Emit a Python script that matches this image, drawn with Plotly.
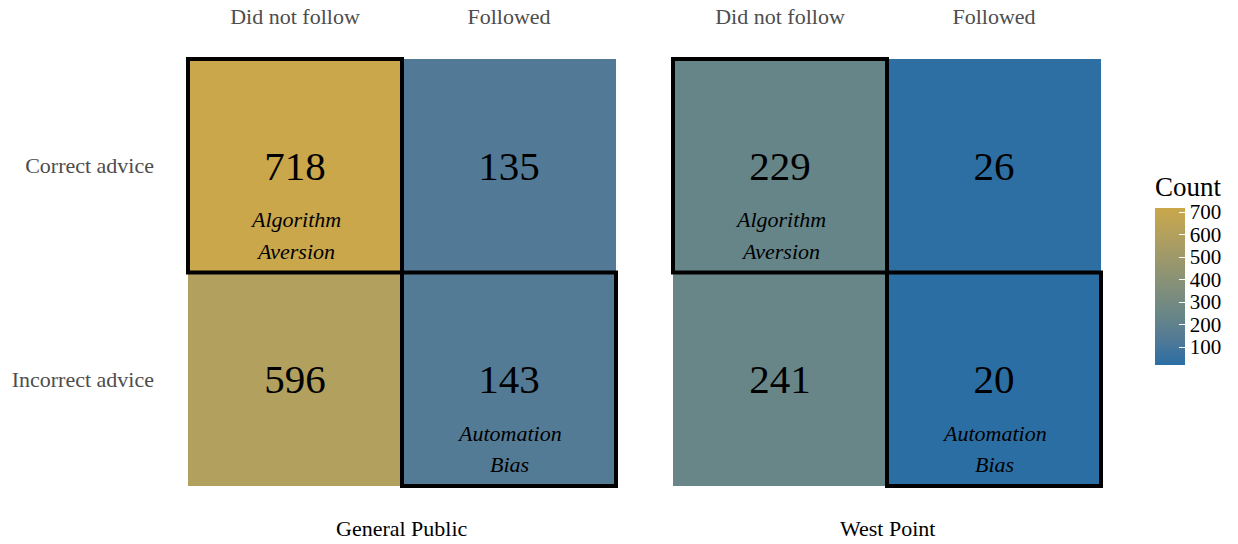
import plotly.graph_objects as go

FONT = "Liberation Serif"

ADVICE = ["Correct advice", "Incorrect advice"]
ACTION = ["Did not follow", "Followed"]
GROUPS = ["General Public", "West Point"]

# counts[row = advice][col = action]
GENERAL_PUBLIC = [[718, 135], [596, 143]]
WEST_POINT = [[229, 26], [241, 20]]
COUNTS = [GENERAL_PUBLIC, WEST_POINT]

# highlighted cells: (row, col, label lines)
HIGHLIGHTS = [(0, 0, ["Algorithm", "Aversion"]), (1, 1, ["Automation", "Bias"])]

CB_TICKS = [100, 200, 300, 400, 500, 600, 700]
SCALE = [
    [0.0, "#2b6ea4"], [0.165, "#527a96"], [0.30, "#668589"],
    [0.55, "#8a9275"], [0.825, "#b2a05e"], [1.0, "#c9a74a"],
]

W, H = 1238, 544
OFF = 8  # page body margin shifts the figure

zmin = min(min(r) for g in COUNTS for r in g)
zmax = max(max(r) for g in COUNTS for r in g)


def px_x(v):
    return (v - OFF) / W


def px_y(v):
    return 1 - (v - OFF) / H


fig = go.Figure()

x_domains = [[px_x(186), px_x(618)], [px_x(671), px_x(1103)]]
y_domain = [px_y(488), px_y(57)]

for i, (grp, z) in enumerate(zip(GROUPS, COUNTS)):
    xa = "x" if i == 0 else f"x{i+1}"
    ya = "y" if i == 0 else f"y{i+1}"
    fig.add_trace(go.Heatmap(
        z=z, x=ACTION, y=ADVICE,
        xaxis=xa, yaxis=ya,
        colorscale=SCALE, zmin=zmin, zmax=zmax,
        texttemplate="%{z}", textfont=dict(family=FONT, size=41, color="black"),
        showscale=(i == 0),
        hoverinfo="skip",
        colorbar=dict(
            title=dict(text="Count", side="top", font=dict(family=FONT, size=27, color="black")),
            tickvals=CB_TICKS, ticks="inside", tickcolor="white", ticklen=6,
            tickfont=dict(family=FONT, size=21, color="black"),
            len=192, lenmode="pixels", thickness=30, ypad=0, xpad=0,
            x=px_x(1155), xanchor="left", y=px_y(365), yanchor="bottom",
            outlinewidth=0,
        ),
    ))
    for r, c, lines in HIGHLIGHTS:
        fig.add_shape(type="rect", xref=xa, yref=ya,
                      x0=c - 0.5, x1=c + 0.5, y0=r - 0.5, y1=r + 0.5,
                      line=dict(color="black", width=4))
        for k, line in enumerate(lines):
            fig.add_annotation(xref=xa, yref=ya, x=c, y=r + 0.252 + k * 0.148,
                               text=f"<i>{line}</i>", showarrow=False,
                               font=dict(family=FONT, size=22, color="black"))
    fig.add_annotation(xref="paper", yref="paper",
                       x=sum(x_domains[i]) / 2, y=px_y(528),
                       text=grp, showarrow=False, xanchor="center", yanchor="middle",
                       font=dict(family=FONT, size=22, color="black"))

    fig.update_layout({
        ("xaxis" if i == 0 else f"xaxis{i+1}"): dict(
            domain=x_domains[i], side="top", showgrid=False, zeroline=False,
            ticks="", ticklabelstandoff=28, anchor=ya, automargin=False,
            tickfont=dict(family=FONT, size=22, color="#4d4d4d"),
        ),
        ("yaxis" if i == 0 else f"yaxis{i+1}"): dict(
            domain=y_domain, autorange="reversed", showgrid=False, zeroline=False,
            ticks="", showticklabels=(i == 0), ticklabelstandoff=31, anchor=xa,
            automargin=False,
            tickfont=dict(family=FONT, size=22, color="#4d4d4d"),
        ),
    })

fig.update_layout(
    width=W, height=H,
    margin=dict(l=0, r=0, t=0, b=0, autoexpand=False),
    plot_bgcolor="white", paper_bgcolor="white",
)

fig.write_html("out.html")
